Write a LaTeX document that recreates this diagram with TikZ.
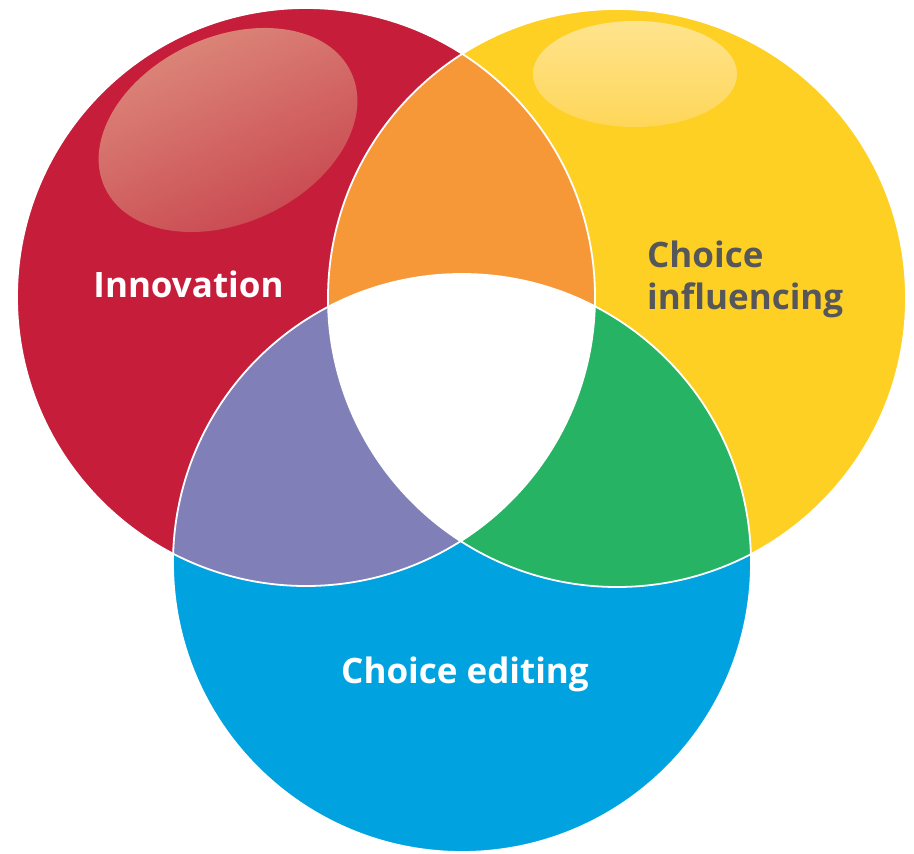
\documentclass[tikz,border=0pt]{standalone}
\usepackage{fontspec}
\setmainfont{Open Sans}
\begin{document}
\definecolor{cRed}{RGB}{197,29,58}
\definecolor{cYellow}{RGB}{255,208,36}
\definecolor{cBlue}{RGB}{0,163,224}
\definecolor{cOrange}{RGB}{247,152,56}
\definecolor{cPurple}{RGB}{129,127,184}
\definecolor{cGreen}{RGB}{38,179,100}
\definecolor{cGray}{RGB}{85,87,91}
\definecolor{redHiA}{RGB}{221,138,124}
\definecolor{redHiB}{RGB}{199,66,76}
\definecolor{yelHiA}{RGB}{255,228,142}
\definecolor{yelHiB}{RGB}{254,214,88}
\begin{tikzpicture}[x=1pt,y=-1pt,
  label/.style={inner sep=0pt,font=\fontsize{35}{42}\selectfont\bfseries},
  rim/.style={draw=white,line width=1.8pt}]
\useasboundingbox (0,0) rectangle (914,854);
% circle centres and radius
\coordinate (R) at (306,297);
\coordinate (Y) at (617,298);
\coordinate (B) at (462,563);
\def\rad{289}
% base discs
\fill[cRed] (R) circle[radius=\rad];
\fill[cYellow] (Y) circle[radius=\rad];
\fill[cBlue] (B) circle[radius=\rad];
% pairwise overlaps
\begin{scope}
  \clip (R) circle[radius=\rad];
  \fill[cOrange] (Y) circle[radius=\rad];
  \fill[cPurple] (B) circle[radius=\rad];
\end{scope}
\begin{scope}
  \clip (Y) circle[radius=\rad];
  \fill[cGreen] (B) circle[radius=\rad];
\end{scope}
% common centre
\begin{scope}
  \clip (R) circle[radius=\rad];
  \clip (Y) circle[radius=\rad];
  \fill[white] (B) circle[radius=\rad];
\end{scope}
% glossy highlights
\shade[top color=redHiA,bottom color=redHiB,shading angle=25,
  rotate around={25:(228,130)}] (228,130) ellipse[x radius=136,y radius=93];
\shade[top color=yelHiA,bottom color=yelHiB]
  (635,74) ellipse[x radius=102,y radius=53];
% white rims
\draw[rim] (R) circle[radius=\rad];
\draw[rim] (Y) circle[radius=\rad];
\draw[rim] (B) circle[radius=\rad];
% labels
\node[label,text=white,anchor=base] (inno) at (188.5,297) {Innovation};
\node[label,text=cGray,anchor=base west,align=left] (infl) at (647,309) {Choice\\influencing};
\node[label,text=white,anchor=base] (edit) at (465,683) {Choice editing};
\end{tikzpicture}
\end{document}
